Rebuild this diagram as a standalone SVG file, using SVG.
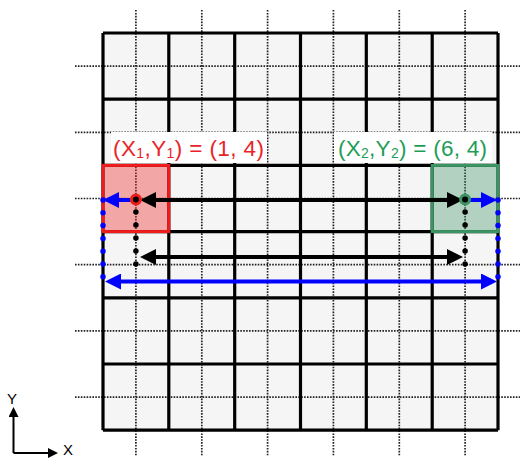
<svg xmlns="http://www.w3.org/2000/svg" width="520" height="459" viewBox="0 0 520 459">
<style>
.dot{stroke:#222;stroke-width:1.7;stroke-dasharray:1.6 1.3;fill:none}
.grid{stroke:#000;stroke-width:3.2;fill:none}
.lbl{font-family:"Liberation Sans",Arial,sans-serif;font-size:22.5px}
.ax{font-family:"Liberation Sans",Arial,sans-serif;font-size:15px;fill:#000}
.bk{stroke:#000;stroke-width:4;fill:none}
.bl{stroke:#0000ff;stroke-width:4;fill:none}
.bdots{stroke:#000;stroke-width:5.5;stroke-linecap:round;stroke-dasharray:0 13;fill:none}
.udots{stroke:#0000ff;stroke-width:5.5;stroke-linecap:round;stroke-dasharray:0 12.8;fill:none}
</style>
<defs>
<marker id="hk" viewBox="0 0 16 16" markerUnits="userSpaceOnUse" markerWidth="16" markerHeight="16" refX="8" refY="8" orient="auto-start-reverse"><path d="M0,0 L16,8 L0,16 z" fill="#000"/></marker>
<marker id="hb" viewBox="0 0 16 16" markerUnits="userSpaceOnUse" markerWidth="16" markerHeight="16" refX="8" refY="8" orient="auto-start-reverse"><path d="M0,0 L16,8 L0,16 z" fill="#0000ff"/></marker>
<marker id="ha" viewBox="0 0 10 10" markerUnits="userSpaceOnUse" markerWidth="10" markerHeight="10" refX="5" refY="5" orient="auto"><path d="M0,0 L10,5 L0,10 z" fill="#000"/></marker>
</defs>
<g id="grid">
<rect x="103" y="33" width="395" height="397.2" fill="#f5f5f5"/>
<path class="dot" d="M135.9,10V456M201.8,10V456M267.6,10V456M333.4,10V456M399.3,10V456M465.1,10V456M75,66.1H520M75,132.3H520M75,198.5H520M75,264.7H520M75,330.9H520M75,397.1H520"/>
<path class="grid" d="M103,33H498M103,99.2H498M103,165.4H498M103,231.6H498M103,297.8H498M103,364H498M103,430.2H498M103,33V430.2M168.8,33V430.2M234.7,33V430.2M300.5,33V430.2M366.3,33V430.2M432.2,33V430.2M498,33V430.2"/>
</g>
<g id="cell1">
<rect x="103" y="165.4" width="65.8" height="66.2" fill="#f03030" fill-opacity="0.4" stroke="#ee1c1c" stroke-width="3"/>
</g>
<g id="cell2">
<rect x="432.2" y="165.4" width="65.8" height="66.2" fill="#3a9060" fill-opacity="0.35" stroke="#3b9463" stroke-width="3"/>
</g>
<g id="label1">
<rect x="111" y="132" width="156" height="31" fill="#fff"/>
<text class="lbl" x="113" y="156" fill="#e8242a" textLength="151" lengthAdjust="spacing">(X<tspan font-size="14" dy="2">1</tspan><tspan dy="-2">,Y</tspan><tspan font-size="14" dy="2">1</tspan><tspan dy="-2">) = (1, 4)</tspan></text>
</g>
<g id="label2">
<rect x="334" y="132" width="158" height="31" fill="#fff"/>
<text class="lbl" x="338" y="156" fill="#1f9d58" textLength="149" lengthAdjust="spacing">(X<tspan font-size="14" dy="2">2</tspan><tspan dy="-2">,Y</tspan><tspan font-size="14" dy="2">2</tspan><tspan dy="-2">) = (6, 4)</tspan></text>
</g>
<g id="connectors">
<path class="bdots" d="M135.9,199V266"/>
<path class="bdots" d="M465.1,199V266"/>
<path class="udots" d="M103,200V278"/>
<path class="udots" d="M498,200V278"/>
<line class="bk" x1="148" y1="200" x2="455" y2="200" marker-start="url(#hk)" marker-end="url(#hk)"/>
<line class="bk" x1="148" y1="257" x2="455" y2="257" marker-start="url(#hk)" marker-end="url(#hk)"/>
<line class="bl" x1="136" y1="200" x2="111" y2="200" marker-end="url(#hb)"/>
<line class="bl" x1="465" y1="200" x2="489" y2="200" marker-end="url(#hb)"/>
<line class="bl" x1="113" y1="281.5" x2="489" y2="281.5" marker-start="url(#hb)" marker-end="url(#hb)"/>
<circle cx="135.9" cy="199.5" r="4.5" fill="#000" stroke="#ee1c1c" stroke-width="3"/>
<circle cx="465.1" cy="199.5" r="4.5" fill="#000" stroke="#3b9463" stroke-width="3"/>
</g>
<g id="axes">
<line x1="13.5" y1="453" x2="13.5" y2="412" stroke="#000" stroke-width="2" marker-end="url(#ha)"/>
<line x1="13.5" y1="453" x2="53" y2="453" stroke="#000" stroke-width="2" marker-end="url(#ha)"/>
<text class="ax" x="7" y="404">Y</text>
<text class="ax" x="63" y="455" font-size="14">X</text>
</g>
</svg>
